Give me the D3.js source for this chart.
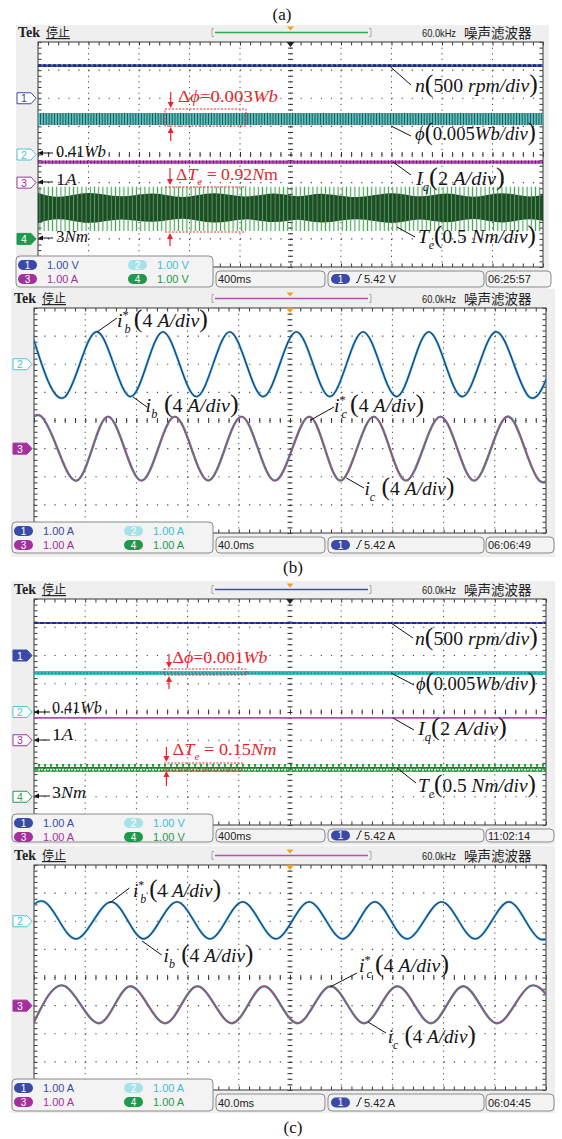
<!DOCTYPE html>
<html>
<head>
<meta charset="utf-8">
<script src="https://cdn.jsdelivr.net/npm/d3@7"></script>
<style>
  body { margin: 0; background: #fff; }
  svg { display: block; }
</style>
</head>
<body>
<svg width="562" height="1139"></svg>
<script>
// ---------- data (read off the scope shots) ----------
// slow traces: [time ms, level in screen divisions from centre]
const speedA = [[0, 3.16], [4000, 3.16]];
const fluxA = [[0, 1.48, 1.05], [4000, 1.48, 1.05]];      // [t, top, bottom]
const iqA = [[0, -0.27], [4000, -0.27]];
const teSpikeA = [[0, -1.15, -2.72], [4000, -1.15, -2.72]];
const teCoreA = [
  [-60, -1.28, -2.52], [170, -1.62, -2.18], [396, -1.25, -2.55], [650, -1.60, -2.20],
  [911, -1.27, -2.50], [1150, -1.63, -2.17], [1394, -1.26, -2.54], [1635, -1.60, -2.20],
  [1877, -1.28, -2.50], [2060, -1.58, -2.22], [2241, -1.30, -2.52], [2525, -1.62, -2.18],
  [2812, -1.26, -2.55], [3025, -1.60, -2.20], [3239, -1.27, -2.52], [3450, -1.62, -2.18],
  [3667, -1.26, -2.53], [3900, -1.60, -2.20], [4100, -1.28, -2.50]
];
const speedC = [[0, 3.15], [4000, 3.15]];
const fluxC = [[0, 1.45, 1.31], [4000, 1.45, 1.31]];
const iqC = [[0, -0.21], [4000, -0.21]];
const teC = [[0, -1.84, -2.12], [4000, -1.84, -2.12]];

// phase currents: extrema [time ms, current A], 4 A/div
const ibB = [[-2.1, 4.6], [24.4, -4.6], [49.6, 4.6], [75.6, -4.6], [100.8, 4.6], [126.9, -4.6],
  [152.9, 4.6], [179.0, -4.6], [205.0, 4.6], [231.1, -4.6], [257.1, 4.6], [283.2, -4.6],
  [308.4, 4.6], [334.4, -4.6], [360.5, 4.6], [386.6, -4.6], [411.8, 4.6]];
const icB = [[-20.2, -4.55], [5.9, 4.55], [33.3, -4.55], [58.0, 4.55], [84.0, -4.55], [110.0, 4.55],
  [136.1, -4.55], [162.1, 4.55], [188.2, -4.55], [215.0, 4.55], [239.4, -4.55], [265.4, 4.55],
  [290.6, -4.55], [317.5, 4.55], [343.6, -4.55], [369.6, 4.55], [394.8, -4.55], [421.7, 4.55]];
const ibD = [[-17.6, -2.5], [8.4, 2.75], [33.3, -2.5], [60.5, 2.75], [85.7, -2.5], [111.7, 2.75],
  [137.5, -2.5], [163.0, 2.75], [189.0, -2.5], [215.0, 2.75], [241.1, -2.5], [266.3, 2.75],
  [291.5, -2.5], [318.4, 2.75], [344.4, -2.5], [370.4, 2.75], [394.8, -2.5], [421.7, 2.75]];
const icD = [[-0.4, -2.5], [24.4, 2.75], [51.2, -2.5], [75.6, 2.75], [102.5, -2.5], [127.7, 2.75],
  [154.6, -2.5], [179.8, 2.75], [205.8, -2.5], [231.8, 2.75], [257.9, -2.5], [283.9, 2.75],
  [310.0, -2.5], [335.2, 2.75], [361.2, -2.5], [387.2, 2.75], [413.3, -2.5]];

// status bar texts
const scaleA = ["1.00 V", "1.00 V", "1.00 A", "1.00 V"];
const scaleB = ["1.00 A", "1.00 A", "1.00 A", "1.00 A"];
const scaleC = ["1.00 A", "1.00 V", "1.00 A", "1.00 V"];
const scaleD = ["1.00 A", "1.00 A", "1.00 A", "1.00 A"];
const timebase = ["400ms", "40.0ms", "400ms", "40.0ms"];
const trigger = ["5.42 V", "5.42 A", "5.42 A", "5.42 A"];
const clock = ["06:25:57", "06:06:49", "11:02:14", "06:04:45"];

// ---------- drawing ----------
const svg = d3.select("svg");
const defs = svg.append("defs");
const chColor = {1: "#3a4aa6", 2: "#4cc3d3", 3: "#a3309d", 4: "#1f9a4c"};
const chText = {1: "#3a4aa6", 2: "#40bfd2", 3: "#a3309d", 4: "#1f9a4c"};
const pillColor = {1: "#3a4aa6", 2: "#a6e2ea", 3: "#a3309d", 4: "#1f9a4c"};
const narrow = "'Liberation Sans Narrow', 'Liberation Sans', sans-serif";
const serif = "'Liberation Serif', serif";

function stripes(id, w, bg, fg, lw) {
  const p = defs.append("pattern").attr("id", id).attr("patternUnits", "userSpaceOnUse")
    .attr("width", w).attr("height", 20);
  if (bg) p.append("rect").attr("width", w).attr("height", 20).attr("fill", bg);
  p.append("line").attr("x1", w / 2).attr("x2", w / 2).attr("y1", 0).attr("y2", 20)
    .attr("stroke", fg).attr("stroke-width", lw);
}
stripes("teSpike", 4.2, null, "#4aa458", 1.2);
stripes("teCore", 4.2, "#1e4a26", "#4f9c59", 1.0);
stripes("fluxBand", 2.8, "#62c9c9", "#1f4f52", 1.1);
const zz = defs.append("pattern").attr("id", "zig").attr("patternUnits", "userSpaceOnUse")
  .attr("width", 6).attr("height", 8);
zz.append("path").attr("d", "M0,4 L1.5,1.5 L3,6.5 L4.5,2 L6,4").attr("fill", "none")
  .attr("stroke", "#2d9a3d").attr("stroke-width", 1.4);

// rich text label, stretched to a width
function label(x, y, w, segs, size, color) {
  const t = svg.append("text").attr("font-family", serif).attr("font-size", size)
    .attr("fill", color || "#151515");
  let shift = 0;
  segs.forEach(s => {
    const sp = t.append("tspan").text(s[0]);
    const k = s[1] || "";
    let dy = 0;
    if (k.includes("i")) sp.attr("font-style", "italic");
    if (k.includes("s")) { dy = size * 0.32; sp.attr("font-size", size * 0.62); }
    if (k.includes("p")) { dy = -size * 0.42; sp.attr("font-size", size * 0.62); }
    if (k.includes("b")) sp.attr("font-size", size * 1.3);
    if (s[2]) sp.attr("dx", s[2]);
    sp.attr("dy", dy - shift);
    shift = dy;
  });
  const bw = t.node().getBBox().width;
  t.attr("transform", `translate(${x},${y}) scale(${w / bw},1)`);
}

function leader(p) {
  svg.append("line").attr("x1", p[0]).attr("y1", p[1]).attr("x2", p[2]).attr("y2", p[3])
    .attr("stroke", "#111").attr("stroke-width", 1);
}

function vArrow(x, y1, y2, color) {
  const d = y2 > y1 ? 1 : -1;
  svg.append("line").attr("x1", x).attr("x2", x).attr("y1", y1).attr("y2", y2 - d * 4)
    .attr("stroke", color).attr("stroke-width", 1.2);
  svg.append("path").attr("d", `M${x - 3},${y2 - d * 6} L${x + 3},${y2 - d * 6} L${x},${y2} Z`)
    .attr("fill", color);
}

function hArrow(x1, x2, y) {
  svg.append("line").attr("x1", x1).attr("x2", x2 + 4).attr("y1", y).attr("y2", y)
    .attr("stroke", "#111").attr("stroke-width", 1);
  svg.append("path").attr("d", `M${x2 + 5},${y - 2.5} L${x2 + 5},${y + 2.5} L${x2},${y} Z`)
    .attr("fill", "#111");
}

function dashedRect(x0, y0, x1, y1) {
  svg.append("rect").attr("x", x0).attr("y", y0).attr("width", x1 - x0).attr("height", y1 - y0)
    .attr("fill", "none").attr("stroke", "#e8262c").attr("stroke-width", 1)
    .attr("stroke-dasharray", "2,1.5");
}
function dashedLine(x0, x1, y) {
  svg.append("line").attr("x1", x0).attr("x2", x1).attr("y1", y).attr("y2", y)
    .attr("stroke", "#e8262c").attr("stroke-width", 1).attr("stroke-dasharray", "2,1.5");
}

function screen(cfg, idx) {
  const {gx0, gx1, gy0, gy1, bg} = cfg;
  const g = svg.append("g");
  g.append("rect").attr("x", bg[0]).attr("y", bg[1]).attr("width", bg[2] - bg[0])
    .attr("height", bg[3] - bg[1]).attr("fill", "#efefef");

  // header
  const hy = gy0 - 5;
  g.append("text").attr("x", gx0 - 20).attr("y", hy).attr("font-family", serif)
    .attr("font-weight", "bold").attr("font-size", 14).attr("fill", "#222").text("Tek");
  g.append("text").attr("x", gx0 + 8).attr("y", hy).attr("font-family", "'Noto Sans CJK SC'")
    .attr("font-size", 12).attr("fill", "#222").attr("text-decoration", "underline").text("停止");
  const by = gy0 - 9.5;
  g.append("path").attr("d", `M214,${by - 4} h-2 v8 h2 M369,${by - 4} h2 v8 h-2`)
    .attr("fill", "none").attr("stroke", "#aaa");
  g.append("line").attr("x1", 215).attr("x2", 368).attr("y1", by).attr("y2", by)
    .attr("stroke", cfg.bar).attr("stroke-width", 1.5);
  const cx = (gx0 + gx1) / 2;
  g.append("path").attr("d", `M${cx - 3.5},${by - 6} h7 l-3.5,4 Z`).attr("fill", "#f0a020");
  g.append("text").attr("x", 422).attr("y", hy).attr("font-family", narrow).attr("font-size", 11)
    .attr("textLength", 34).attr("lengthAdjust", "spacingAndGlyphs")
    .attr("fill", "#222").text("60.0kHz");
  g.append("text").attr("x", 464).attr("y", hy + 1).attr("font-family", "'Noto Sans CJK SC'")
    .attr("font-size", 13.5).attr("fill", "#222").text("噪声滤波器");

  // graticule
  const x = d3.scaleLinear().domain([0, 10]).range([gx0, gx1]);
  const y = d3.scaleLinear().domain([-4, 4]).range([gy1, gy0]);
  g.append("rect").attr("x", gx0).attr("y", gy0).attr("width", gx1 - gx0).attr("height", gy1 - gy0)
    .attr("fill", "#fff");
  const dx = (x(1) - x(0)) / 5, dy = (y(0) - y(1)) / 5;
  g.selectAll(".vg").data(d3.range(1, 10)).join("line")
    .attr("x1", d => x(d)).attr("x2", d => x(d)).attr("y1", gy0).attr("y2", gy1)
    .attr("stroke", "#444").attr("stroke-width", 1).attr("stroke-dasharray", `1.2,${dy - 1.2}`);
  g.selectAll(".hg").data(d3.range(-3, 4)).join("line")
    .attr("x1", gx0).attr("x2", gx1).attr("y1", d => y(d)).attr("y2", d => y(d))
    .attr("stroke", "#444").attr("stroke-width", 1.2).attr("stroke-dasharray", `1.2,${dx - 1.2}`);
  const xm = d3.range(0, 10.01, 0.2), ym = d3.range(-4, 4.01, 0.2);
  const tick = (sel) => sel.call(s => s.select(".domain").remove())
    .call(s => s.selectAll("line").attr("stroke", "#333"));
  g.append("g").attr("transform", `translate(0,${gy0})`)
    .call(d3.axisBottom(x).tickValues(xm).tickSize(3.5).tickFormat("")).call(tick);
  g.append("g").attr("transform", `translate(0,${gy1})`)
    .call(d3.axisTop(x).tickValues(xm).tickSize(3.5).tickFormat("")).call(tick);
  g.append("g").attr("transform", `translate(${gx0},0)`)
    .call(d3.axisRight(y).tickValues(ym).tickSize(3.5).tickFormat("")).call(tick);
  g.append("g").attr("transform", `translate(${gx1},0)`)
    .call(d3.axisLeft(y).tickValues(ym).tickSize(3.5).tickFormat("")).call(tick);
  [d3.axisLeft, d3.axisRight].forEach(a => g.append("g").attr("transform", `translate(${x(5)},0)`)
    .call(a(y).tickValues(ym).tickSize(2.5).tickFormat("")).call(tick));
  [d3.axisTop, d3.axisBottom].forEach(a => g.append("g").attr("transform", `translate(0,${y(0)})`)
    .call(a(x).tickValues(xm).tickSize(2.5).tickFormat("")).call(tick));
  g.append("rect").attr("x", gx0).attr("y", gy0).attr("width", gx1 - gx0).attr("height", gy1 - gy0)
    .attr("fill", "none").attr("stroke", "#555").attr("stroke-width", 1.2);
  g.append("path").attr("d", `M${cx - 4},${gy0} h8 l-4,5 Z`).attr("fill", cfg.trig);

  // channel ground markers
  cfg.markers.forEach(m => {
    const my = y(m.lvl), mx = gx0 - 21;
    g.append("path").attr("d", `M${mx},${my - 5.5} h14 l5,5.5 l-5,5.5 h-14 Z`)
      .attr("fill", m.fill ? chColor[m.ch] : "#fff").attr("stroke", chColor[m.ch]).attr("stroke-width", 1);
    g.append("text").attr("x", mx + 7).attr("y", my + 4).attr("text-anchor", "middle")
      .attr("font-family", narrow).attr("font-size", 10.5)
      .attr("fill", m.fill ? "#fff" : chColor[m.ch]).text(m.ch);
  });

  // traces
  const clipId = "clip" + idx;
  defs.append("clipPath").attr("id", clipId).append("rect")
    .attr("x", gx0).attr("y", gy0).attr("width", gx1 - gx0).attr("height", gy1 - gy0);
  const tr = g.append("g").attr("clip-path", `url(#${clipId})`);
  const t = d3.scaleLinear().domain([0, cfg.span]).range([gx0, gx1]);

  // status bar
  const sy = gy1 - 11, sh = cfg.sh;
  g.append("rect").attr("x", gx0 - 22).attr("y", sy).attr("width", 213 - (gx0 - 22)).attr("height", sh)
    .attr("rx", 4).attr("fill", "#f3f3f3").attr("stroke", "#8a8a8a");
  const rows = [[1, 2], [3, 4]];
  rows.forEach((r, ri) => r.forEach((ch, ci) => {
    const px = gx0 - 20 + ci * 110, py = sy + 9 + ri * 14;
    g.append("rect").attr("x", px).attr("y", py - 5).attr("width", 19).attr("height", 10)
      .attr("rx", 5).attr("fill", pillColor[ch]);
    g.append("text").attr("x", px + 9.5).attr("y", py + 3.5).attr("text-anchor", "middle")
      .attr("font-family", narrow).attr("font-size", 10).attr("fill", "#fff").text(ch);
    g.append("text").attr("x", px + 29).attr("y", py + 4).attr("font-family", narrow)
      .attr("font-size", 11).attr("fill", chText[ch]).text(cfg.scales[ch - 1]);
  }));
  const my0 = sy + 15, mh = sh - 15, mty = my0 + mh / 2 + 4;
  [[216, 325], [328, 484], [486, gx1 + 8]].forEach(b => {
    g.append("rect").attr("x", b[0]).attr("y", my0).attr("width", b[1] - b[0]).attr("height", mh)
      .attr("rx", 4).attr("fill", "#f3f3f3").attr("stroke", "#8a8a8a");
  });
  g.append("text").attr("x", 218).attr("y", mty).attr("font-family", narrow).attr("font-size", 11)
    .attr("fill", "#222").text(timebase[idx]);
  g.append("rect").attr("x", 331).attr("y", mty - 9).attr("width", 19).attr("height", 10)
    .attr("rx", 5).attr("fill", pillColor[1]);
  g.append("text").attr("x", 340.5).attr("y", mty - 0.5).attr("text-anchor", "middle")
    .attr("font-family", narrow).attr("font-size", 10).attr("fill", "#fff").text("1");
  g.append("path").attr("d", `M356,${mty - 0.5} h1.5 l3,-8 h1.5`).attr("fill", "none")
    .attr("stroke", "#222").attr("stroke-width", 1);
  g.append("text").attr("x", 364).attr("y", mty).attr("font-family", narrow).attr("font-size", 11)
    .attr("fill", "#222").text(trigger[idx]);
  g.append("text").attr("x", 488).attr("y", mty).attr("font-family", narrow).attr("font-size", 11)
    .attr("fill", "#222").text(clock[idx]);

  return {tr, t, y};
}

const scr = [
  {gx0: 38, gx1: 543, gy0: 42, gy1: 267, bg: [16, 25, 549, 289], bar: "#2aa84a", trig: "#222", span: 4000, sh: 31,
   scales: scaleA, markers: [{ch: 1, lvl: 2}, {ch: 2, lvl: 0}, {ch: 3, lvl: -1}, {ch: 4, lvl: -3, fill: true}]},
  {gx0: 34, gx1: 546, gy0: 308, gy1: 533, bg: [11, 289, 555, 557], bar: "#b050b0", trig: "#f0a020", span: 400, sh: 31,
   scales: scaleB, markers: [{ch: 2, lvl: 2}, {ch: 3, lvl: -1, fill: true}]},
  {gx0: 34, gx1: 546, gy0: 599, gy1: 825, bg: [11, 581, 555, 845], bar: "#4050a8", trig: "#222", span: 4000, sh: 28,
   scales: scaleC, markers: [{ch: 1, lvl: 2, fill: true}, {ch: 2, lvl: 0}, {ch: 3, lvl: -1}, {ch: 4, lvl: -3}]},
  {gx0: 34, gx1: 546, gy0: 865, gy1: 1090, bg: [11, 846, 555, 1113], bar: "#b050b0", trig: "#f0a020", span: 400, sh: 32,
   scales: scaleD, markers: [{ch: 2, lvl: 2}, {ch: 3, lvl: -1, fill: true}]}
].map(screen);

function flat(s, data, color, w, dash) {
  s.tr.append("path").datum(data)
    .attr("d", d3.line().x(d => s.t(d[0])).y(d => s.y(d[1])))
    .attr("fill", "none").attr("stroke", color).attr("stroke-width", w)
    .attr("stroke-dasharray", dash || null);
}
function band(s, data, fill, curve) {
  s.tr.append("path").datum(data)
    .attr("d", d3.area().x(d => s.t(d[0])).y0(d => s.y(d[2])).y1(d => s.y(d[1]))
      .curve(curve || d3.curveLinear))
    .attr("fill", fill);
}
function wave(s, data, off, color, w) {
  s.tr.append("path").datum(data)
    .attr("d", d3.line().x(d => s.t(d[0])).y(d => s.y(d[1] / 4 + off)).curve(d3.curveNatural))
    .attr("fill", "none").attr("stroke", color).attr("stroke-width", w);
}

// (a)
const [sa, sb, sc, sd] = scr;
flat(sa, speedA, "#4657b0", 2.6);
flat(sa, speedA, "#1f2c84", 2.6, "3,2");
band(sa, fluxA, "url(#fluxBand)");
flat(sa, iqA, "#b54cb5", 3.2);
flat(sa, iqA, "#6d1c6d", 3.2, "1,2.5");
band(sa, teSpikeA, "url(#teSpike)");
band(sa, teCoreA, "url(#teCore)", d3.curveBasis);

// (b)
wave(sb, ibB, 2, "#44c4cc", 2.4);
wave(sb, ibB, 2, "#27368f", 1.2);
wave(sb, icB, -1, "#35a24e", 2.4);
wave(sb, icB, -1, "#b43cb4", 1.3);

// (c) upper
flat(sc, speedC, "#4657b0", 1.8);
flat(sc, speedC, "#1f2c84", 1.8, "4,2");
band(sc, fluxC, "#3cbcbc");
flat(sc, fluxC.map(d => [d[0], (d[1] + d[2]) / 2]), "#1d6e70", 1.2, "1.5,2");
flat(sc, iqC, "#b54cb5", 1.8);
band(sc, teC, "url(#zig)");
flat(sc, teC.map(d => [d[0], (d[1] + d[2]) / 2]), "#1f7a30", 1.8);

// (c) lower
wave(sd, ibD, 2, "#44c4cc", 2.4);
wave(sd, ibD, 2, "#27368f", 1.2);
wave(sd, icD, -1, "#35a24e", 2.4);
wave(sd, icD, -1, "#b43cb4", 1.3);

// ---------- annotations ----------
const red = "#e8262c";
const cap = (x, y, s) => svg.append("text").attr("x", x).attr("y", y).attr("text-anchor", "middle")
  .attr("font-family", serif).attr("font-size", 17).attr("fill", "#111").text(s);
cap(282, 20, "(a)");
cap(293, 573, "(b)");
cap(293, 1133, "(c)");

const nLab = [["n", "i"], ["(", "b"], ["500 ", ""], ["rpm/div", "i"], [")", "b"]];
const phiLab = [["ϕ", "i"], ["(", "b"], ["0.005", ""], ["Wb/div", "i"], [")", "b"]];
const iqLab = [["I", "i"], ["q", "is"], ["(", "b"], ["2 ", ""], ["A/div", "i"], [")", "b"]];
const teLab = [["T", "i"], ["e", "is"], ["(", "b"], ["0.5 ", ""], ["Nm/div", "i"], [")", "b"]];
const ibsLab = [["i", "i"], ["*", "p"], ["b", "is", -4], ["(", "b", 3], ["4 ", ""], ["A/div", "i"], [")", "b"]];
const ibLab = [["i", "i"], ["b", "is"], [" (", "b"], ["4 ", ""], ["A/div", "i"], [")", "b"]];
const icsLab = [["i", "i"], ["*", "p"], ["c", "is", -4], ["(", "b", 3], ["4 ", ""], ["A/div", "i"], [")", "b"]];
const icLab = [["i", "i"], ["c", "is"], [" (", "b"], ["4 ", ""], ["A/div", "i"], [")", "b"]];
const wbLab = [["0.41", ""], ["Wb", "i"]];
const aLab = [["1", ""], ["A", "i"]];
const nmLab = [["3", ""], ["Nm", "i"]];
const fs = 19.5;

// (a)
label(415, 92, 123, nLab, fs); leader([389.5, 66, 411, 85]);
label(415, 140, 121, phiLab, fs); leader([391, 126, 411, 136]);
label(416, 185, 90, iqLab, fs); leader([393, 162, 411, 175]);
label(418, 243, 118, teLab, fs); leader([397, 227, 415, 237]);
label(56, 157, 50, wbLab, 16); hArrow(53, 38, 153);
label(56, 185, 21, aLab, 16); hArrow(53, 38, 182);
label(56, 242, 32, nmLab, 16); hArrow(53, 38, 238);
label(178, 102, 100, [["Δ", ""], ["ϕ", "i"], ["=0.003", ""], ["Wb", "i"]], 17, red);
vArrow(170.7, 92, 108, red); dashedRect(165, 109, 246, 126); vArrow(170.7, 141, 127, red);
label(176, 180, 102, [["Δ", ""], ["T", "i"], ["e", "is"], [" = 0.92", ""], ["N", "i"], ["m", ""]], 17, red);
vArrow(170, 168, 185, red); dashedLine(165, 246, 187); dashedLine(165, 246, 232); vArrow(170, 246, 233, red);

// (b)
label(117, 327, 91, ibsLab, fs); leader([97, 332, 117, 318]);
label(145.6, 412, 93, ibLab, fs); leader([133, 397, 147, 407]);
label(334, 412, 90, icsLab, fs); leader([310.6, 420, 334, 407]);
label(364.4, 495, 90, icLab, fs); leader([346.4, 478, 364, 488]);

// (c) upper
label(415, 645, 123, nLab, fs); leader([391, 623, 413, 638]);
label(416, 690, 120, phiLab, fs); leader([391, 673, 414, 685]);
label(418, 735, 90, iqLab, fs); leader([393, 718, 414, 730]);
label(418, 792, 118, teLab, fs); leader([397, 768, 416, 783]);
label(52, 713, 50, wbLab, 16); hArrow(50, 34, 712);
label(52, 740, 21.5, aLab, 16); hArrow(50, 34, 740);
label(52, 798, 34, nmLab, 16); hArrow(50, 34, 796);
label(172.5, 663, 95, [["Δ", ""], ["ϕ", "i"], ["=0.001", ""], ["Wb", "i"]], 17, red);
vArrow(169, 654, 668, red); dashedRect(164, 669, 246, 675); vArrow(169, 689, 676, red);
label(172.5, 755, 104, [["Δ", ""], ["T", "i"], ["e", "is"], [" = 0.15", ""], ["N", "i"], ["m", "i"]], 17, red);
vArrow(166.4, 747, 762, red); dashedLine(164, 244, 763); dashedLine(164, 244, 770); vArrow(166.4, 786, 771, red);

// (c) lower
label(133, 897, 88, ibsLab, fs); leader([109.7, 903, 129.4, 888]);
label(163.5, 962, 90, ibLab, fs); leader([142, 941, 161.7, 955]);
label(359, 972, 90, icsLab, fs); leader([330, 987, 357, 973]);
label(387.7, 1043, 88, icLab, fs); leader([368, 1022, 386, 1033]);
</script>
</body>
</html>
